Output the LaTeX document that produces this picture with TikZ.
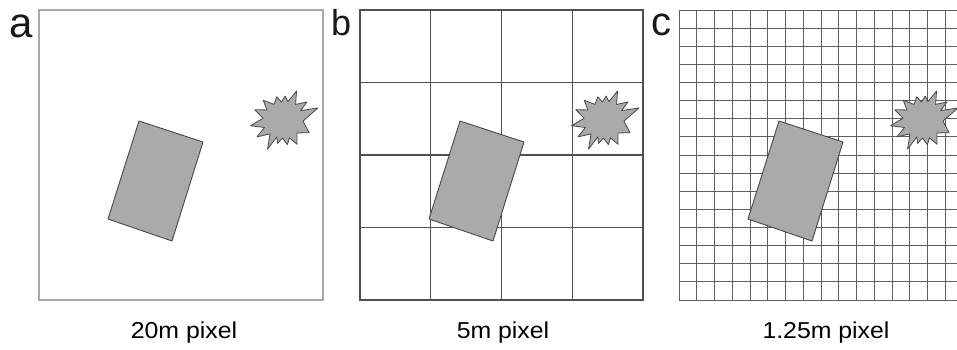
\documentclass[tikz,border=0pt]{standalone}
\usepackage{fontspec}
\setmainfont{Liberation Sans}
\definecolor{shapefill}{HTML}{AAAAAA}
\definecolor{shapeline}{HTML}{484848}
\definecolor{framea}{HTML}{A8A8A8}
\definecolor{gridb}{HTML}{505050}
\definecolor{gridc}{HTML}{606060}
\tikzset{
  objshape/.style={fill=shapefill, draw=shapeline, line width=0.9pt, line join=round},
  panellabel/.style={anchor=base west, inner sep=0pt, text=black!90},
  caption/.style={anchor=base, inner sep=0pt, text=black, font=\fontsize{23}{28}\selectfont},
}
\newcommand\drawobjects[1]{%
  \begin{scope}[xshift=#1]
    \draw[objshape] (100,121) -- (164,142) -- (133,241) -- (69,219) -- cycle;
    \begin{scope}[shift={(244,120)}]
      \draw[objshape, line width=0.8pt] (-19:37) -- (3:20) -- (26:29) -- (43:19) -- (60:28) -- (70:19) -- (80:25) -- (92:18) -- (103:24) -- (110:18) -- (118:33) -- (133:19) -- (147:31) -- (158:20) -- (170:33) -- (185:20) -- (200:30) -- (212:19) -- (225:28) -- (240:18) -- (255:24) -- (265:18) -- (275:24) -- (285:19) -- (295:32) -- (309:20) -- (323:30) -- (332:20) -- cycle;
    \end{scope}
  \end{scope}}
\begin{document}
\begin{tikzpicture}[x=1pt,y=-1pt]
\useasboundingbox (0,0) rectangle (957,349);
\clip (0,0) rectangle (957,349);
% panel a
\draw[framea, line width=1.3pt] (39,10) rectangle (323,300);
\drawobjects{39pt}
\node[panellabel, font=\fontsize{42}{46}\selectfont] (la) at (9,37) {a};
\node[caption] (ca) at (184,338) {\scalebox{1.08}[1]{20m pixel}};
% panel b
\draw[gridb, line width=1.2pt] (360,10) rectangle (643,300);
\foreach \i in {1,2,3} {
  \draw[gridb, line width=1.2pt] ({360+\i*70.75},10) -- ({360+\i*70.75},300);
  \draw[gridb, line width=1.2pt] (360,{10+\i*72.5}) -- (643,{10+\i*72.5});
}
\drawobjects{360pt}
\node[panellabel, font=\fontsize{36}{40}\selectfont] (lb) at (331,35) {b};
\node[caption] (cb) at (503,338) {\scalebox{1.08}[1]{5m pixel}};
% panel c
\foreach \i in {0,...,16} {
  \draw[gridc, line width=1pt] ({679+\i*17.75},10) -- ({679+\i*17.75},300);
  \draw[gridc, line width=1pt] (679,{10+\i*18.125}) -- (963,{10+\i*18.125});
}
\drawobjects{679pt}
\node[panellabel, font=\fontsize{40}{44}\selectfont] (lc) at (651,35) {c};
\node[caption] (cc) at (826,338) {\scalebox{1.08}[1]{1.25m pixel}};
\end{tikzpicture}
\end{document}
